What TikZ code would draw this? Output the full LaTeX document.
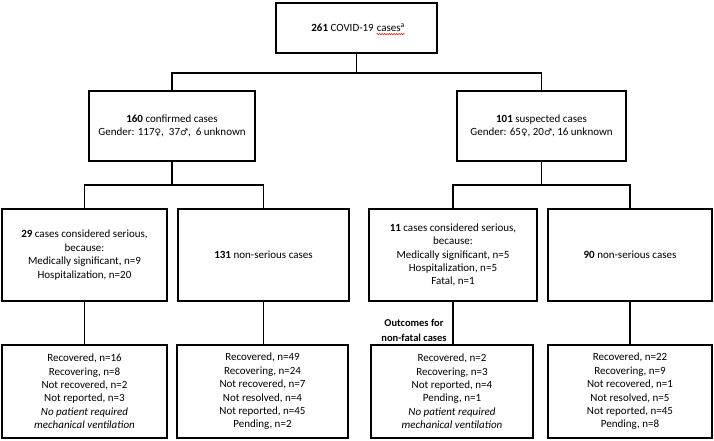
\documentclass[tikz,border=0pt]{standalone}
\usepackage{fontspec}
\setmainfont{Carlito}
\newfontfamily\symfont{DejaVu Sans}
\usepackage{xcolor}
\usetikzlibrary{decorations.pathmorphing}
\newcommand\gsym[1]{{\symfont\fontsize{9}{9}\selectfont #1}}
\begin{document}
\begin{tikzpicture}[x=1pt,y=-1pt]
\tikzset{
  box/.style={draw, line width=1.4pt, align=center, inner sep=2pt,
    font=\fontsize{11}{13.4}\selectfont},
  txt/.style={inner sep=0pt, font=\fontsize{11}{13.4}\selectfont},
  conn/.style={line width=1.6pt},
  note/.style={align=center, font=\bfseries\fontsize{10.5}{15}\selectfont},
  wave/.style={red, line width=0.5pt, decorate,
    decoration={snake, amplitude=0.7pt, segment length=2.4pt}}
}
\useasboundingbox (0,0) rectangle (714,440);

\node[box, minimum width=161pt, minimum height=50pt] (top) at (356.5,28) {};
\node[txt, anchor=base east] (tA) at (374,31.5) {\textbf{261} COVID-19};
\node[txt, anchor=base west] (tB) at ([xshift=2.6pt]tA.base east) {cases\textsuperscript{a}};
\draw[wave] ([yshift=-2.6pt]tB.base west) -- ([yshift=-2.6pt]tB.base east);

\node[box, minimum width=166pt, minimum height=70pt] (conf) at (172,126)
  {\textbf{160} confirmed cases\\Gender: 117\gsym{♀}, \ 37\gsym{♂}, \ 6 unknown};
\node[box, minimum width=169pt, minimum height=70pt] (susp) at (541.5,126)
  {\textbf{101} suspected cases\\Gender: 65\gsym{♀}, 20\gsym{♂}, 16 unknown};

\node[box, minimum width=165pt, minimum height=92pt] (s1) at (84.5,255)
  {\textbf{29} cases considered serious,\\because:\\Medically significant, n=9\\Hospitalization, n=20};
\node[box, minimum width=171pt, minimum height=92pt] (s2) at (263.5,255)
  {\textbf{131} non-serious cases};
\node[box, minimum width=168pt, minimum height=92pt] (s3) at (453,255)
  {\textbf{11} cases considered serious,\\because:\\Medically significant, n=5\\Hospitalization, n=5\\Fatal, n=1};
\node[box, minimum width=164pt, minimum height=92pt] (s4) at (630,255)
  {\textbf{90} non-serious cases};

\node[box, minimum width=165pt, minimum height=93pt] (o1) at (84.5,391.5)
  {Recovered, n=16\\Recovering, n=8\\Not recovered, n=2\\Not reported, n=3\\\textit{No patient required}\\\textit{mechanical ventilation}};
\node[box, minimum width=171pt, minimum height=93pt] (o2) at (262.5,391.5)
  {Recovered, n=49\\Recovering, n=24\\Not recovered, n=7\\Not resolved, n=4\\Not reported, n=45\\Pending, n=2};
\node[box, minimum width=162pt, minimum height=93pt] (o3) at (452,391.5)
  {Recovered, n=2\\Recovering, n=3\\Not reported, n=4\\Pending, n=1\\\textit{No patient required}\\\textit{mechanical ventilation}};
\node[box, minimum width=164pt, minimum height=93pt] (o4) at (630,391.5)
  {Recovered, n=22\\Recovering, n=9\\Not recovered, n=1\\Not resolved, n=5\\Not reported, n=45\\Pending, n=8};

\node[note] (ofn) at (414,330) {Outcomes for\\non-fatal cases};

\draw[conn] (top.south) -- ++(0,19) -| (conf.north);
\draw[conn] (top.south) -- ++(0,19) -| (susp.north);
\draw[conn] (conf.south) -- ++(0,23.5) -| (s1.north);
\draw[conn] (conf.south) -- ++(0,23.5) -| (s2.north);
\draw[conn] (susp.south) -- ++(0,23.5) -| (s3.north);
\draw[conn] (susp.south) -- ++(0,23.5) -| (s4.north);
\draw[conn] (s1.south) -- (s1.south |- o1.north);
\draw[conn] (s2.south) -- (s2.south |- o2.north);
\draw[conn] (s3.south) -- (s3.south |- o3.north);
\draw[conn] (s4.south) -- (s4.south |- o4.north);
\end{tikzpicture}
\end{document}
